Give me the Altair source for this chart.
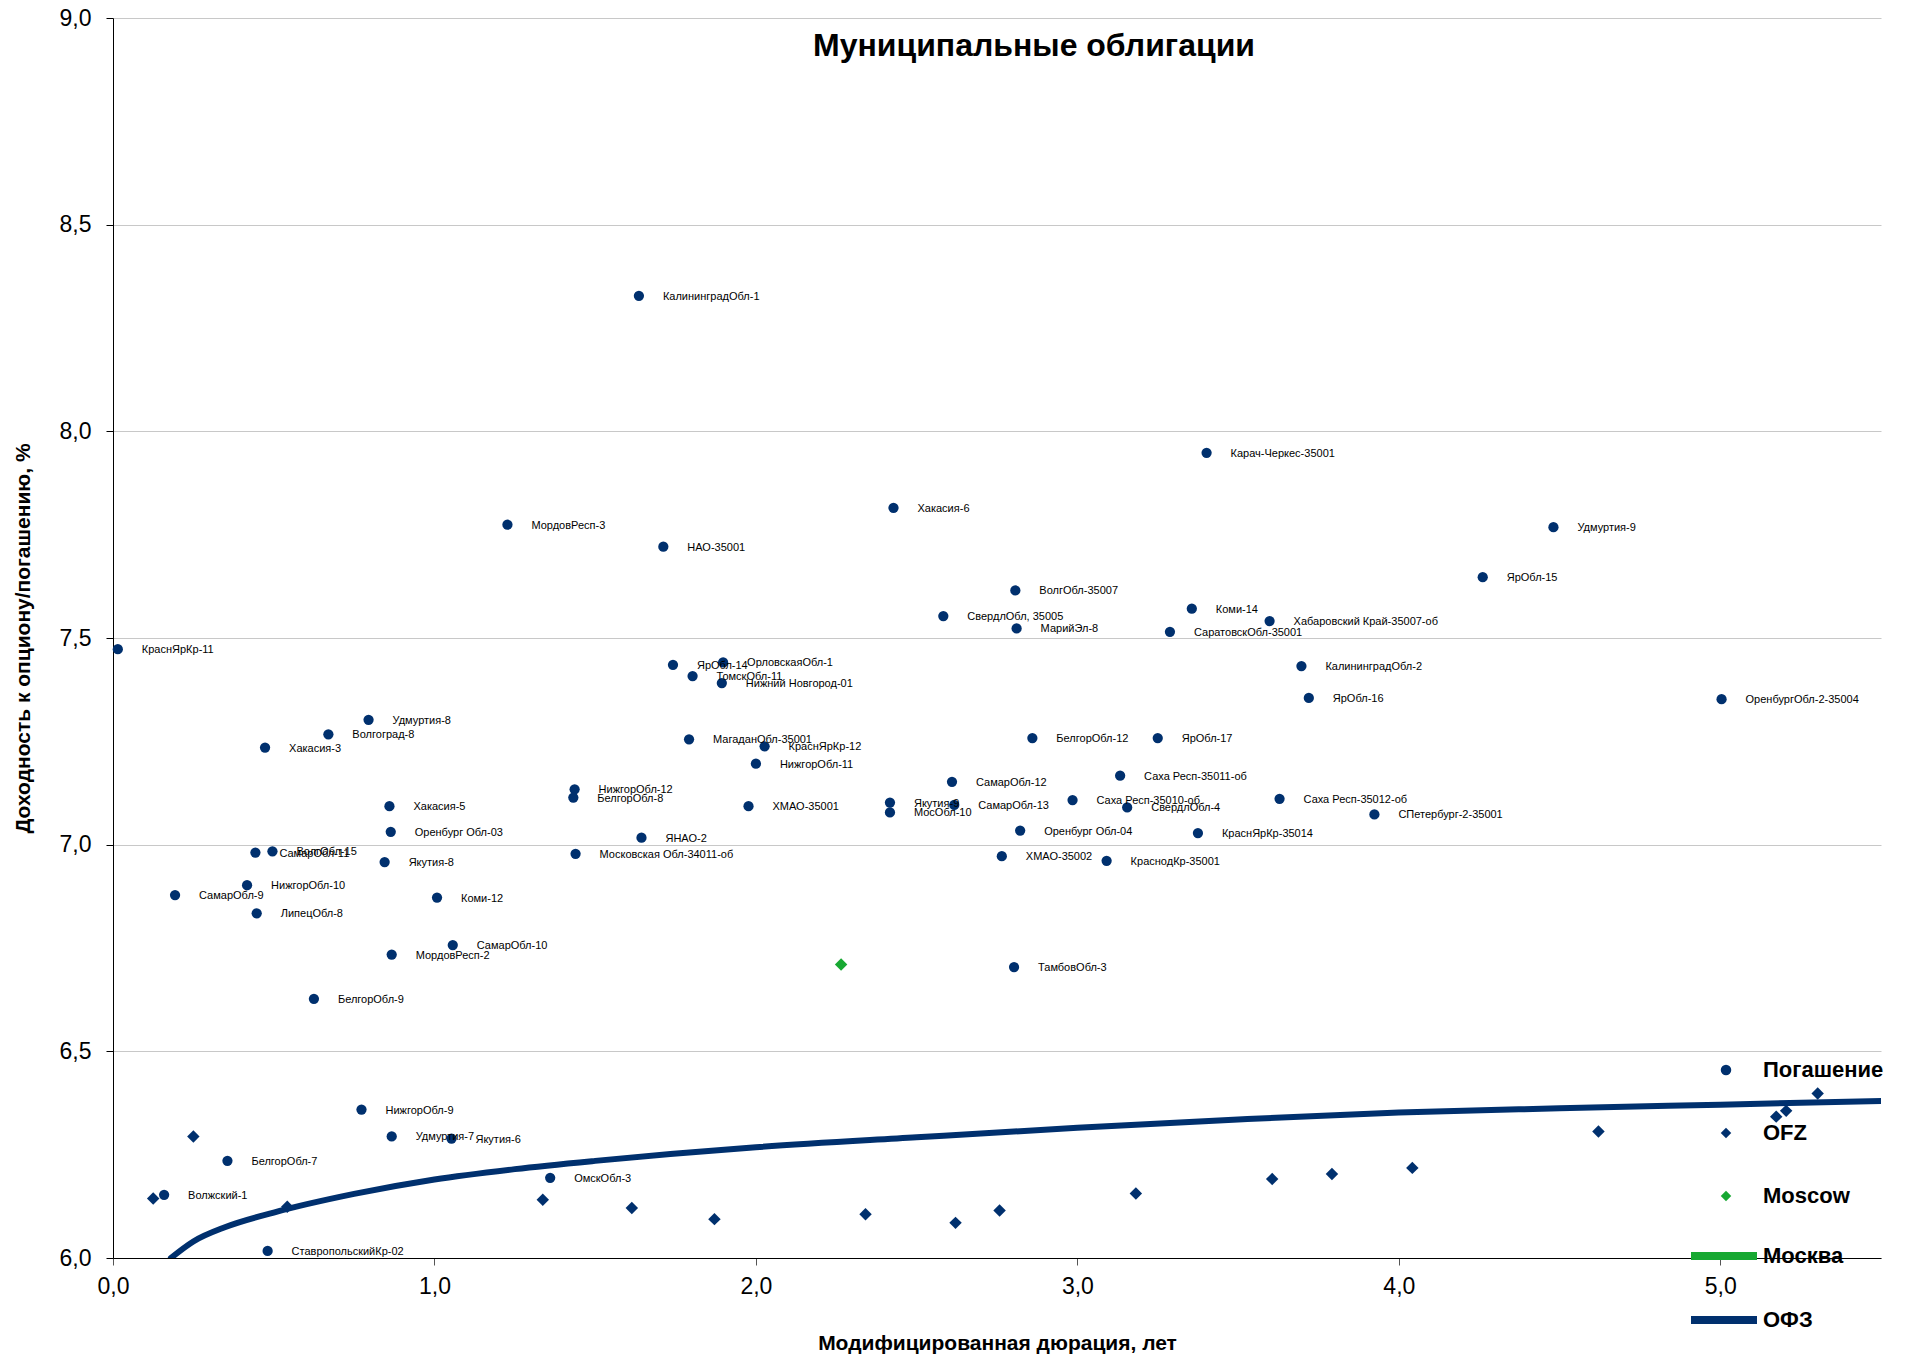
import altair as alt
import pandas as pd

NAVY = "#00306e"
GREEN = "#17a832"
NARROW = "Liberation Sans Narrow, Arial Narrow, Liberation Sans, sans-serif"
SANS = "Liberation Sans, Arial, sans-serif"

# --- Погашение (municipal bonds, yield to maturity) ---
pog_labels = [
    "КалининградОбл-1", "Карач-Черкес-35001", "Хакасия-6", "МордовРесп-3", "НАО-35001",
    "Удмуртия-9", "ЯрОбл-15", "ВолгОбл-35007", "Коми-14", "СвердлОбл, 35005",
    "Хабаровский Край-35007-об", "МарийЭл-8", "СаратовскОбл-35001", "КраснЯрКр-11",
    "КалининградОбл-2", "ЯрОбл-16", "ОренбургОбл-2-35004", "ЯрОбл-14", "ОрловскаяОбл-1",
    "ТомскОбл-11", "Нижний Новгород-01", "Удмуртия-8", "Волгоград-8", "Хакасия-3",
    "МагаданОбл-35001", "КраснЯрКр-12", "НижгорОбл-11", "БелгорОбл-12", "ЯрОбл-17",
    "Саха Респ-35011-об", "СамарОбл-12", "НижгорОбл-12", "БелгорОбл-8", "Хакасия-5",
    "ХМАО-35001", "Якутия-9", "МосОбл-10", "СамарОбл-13", "Саха Респ-35010-об",
    "СвердлОбл-4", "Саха Респ-35012-об", "СПетербург-2-35001", "Оренбург Обл-03",
    "ЯНАО-2", "Оренбург Обл-04", "КраснЯрКр-35014", "Московская Обл-34011-об",
    "СамарОбл-11", "ВолгОбл-15", "ХМАО-35002", "КраснодКр-35001", "НижгорОбл-10",
    "СамарОбл-9", "Якутия-8", "Коми-12", "ЛипецОбл-8", "СамарОбл-10", "МордовРесп-2",
    "ТамбовОбл-3", "БелгорОбл-9", "НижгорОбл-9", "Удмуртия-7", "Якутия-6", "БелгорОбл-7",
    "ОмскОбл-3", "Волжский-1", "СтавропольскийКр-02",
]
pog_x = [
    1.636, 3.402, 2.428, 1.227, 1.712,
    4.481, 4.261, 2.807, 3.356, 2.583,
    3.598, 2.811, 3.288, 0.015,
    3.697, 3.720, 5.004, 1.742, 1.898,
    1.803, 1.894, 0.795, 0.670, 0.473,
    1.792, 2.027, 2.000, 2.860, 3.250,
    3.133, 2.610, 1.436, 1.432, 0.860,
    1.977, 2.417, 2.417, 2.617, 2.985,
    3.155, 3.629, 3.924, 0.864,
    1.644, 2.822, 3.375, 1.439,
    0.443, 0.496, 2.765, 3.091, 0.417,
    0.193, 0.845, 1.008, 0.447, 1.057, 0.867,
    2.803, 0.625, 0.773, 0.867, 1.053, 0.356,
    1.360, 0.159, 0.481,
]
pog_y = [
    8.328, 7.948, 7.815, 7.774, 7.721,
    7.768, 7.647, 7.615, 7.571, 7.553,
    7.541, 7.523, 7.515, 7.473,
    7.432, 7.355, 7.352, 7.435, 7.441,
    7.408, 7.391, 7.302, 7.267, 7.235,
    7.255, 7.238, 7.196, 7.258, 7.258,
    7.167, 7.152, 7.134, 7.114, 7.093,
    7.093, 7.102, 7.078, 7.096, 7.108,
    7.090, 7.111, 7.073, 7.031,
    7.017, 7.034, 7.028, 6.978,
    6.981, 6.984, 6.972, 6.961, 6.902,
    6.878, 6.958, 6.872, 6.834, 6.757, 6.734,
    6.704, 6.627, 6.359, 6.294, 6.289, 6.235,
    6.194, 6.153, 6.017,
]

# --- OFZ (government bonds) ---
ofz_x = [0.125, 0.250, 0.542, 1.337, 1.614, 1.871, 2.341, 2.621, 2.758,
         3.182, 3.606, 3.792, 4.042, 4.621, 5.174, 5.205, 5.303]
ofz_y = [6.144, 6.294, 6.124, 6.141, 6.121, 6.094, 6.106, 6.085, 6.115,
         6.156, 6.191, 6.203, 6.218, 6.306, 6.342, 6.356, 6.398]

# --- Moscow ---
moscow_x = [2.265]
moscow_y = [6.710]

# --- ОФЗ curve ---
curve_x = [0.18, 0.25, 0.35, 0.50, 0.75, 1.00, 1.25, 1.50, 2.00, 2.50,
           3.00, 3.50, 4.00, 4.50, 5.00, 5.50]
curve_y = [6.000, 6.040, 6.075, 6.110, 6.155, 6.190, 6.215, 6.235, 6.268, 6.292,
           6.315, 6.335, 6.352, 6.362, 6.371, 6.380]

x_ticks = [0, 1, 2, 3, 4, 5]
y_ticks = [6.0, 6.5, 7.0, 7.5, 8.0, 8.5, 9.0]

pt_domain = ["Погашение", "OFZ", "Moscow"]
line_domain = ["Москва", "ОФЗ"]

points = pd.DataFrame({
    "x": pog_x + ofz_x + moscow_x,
    "y": pog_y + ofz_y + moscow_y,
    "series": ["Погашение"] * len(pog_x) + ["OFZ"] * len(ofz_x) + ["Moscow"] * len(moscow_x),
    "label": pog_labels + [""] * (len(ofz_x) + len(moscow_x)),
})
curve = pd.DataFrame({"x": curve_x, "y": curve_y, "line": ["ОФЗ"] * len(curve_x)})

comma = "replace(format(datum.value, '.1f'), '.', ',')"

xs = alt.Scale(domain=[0, 5.5], nice=False, zero=False)
ys = alt.Scale(domain=[6, 9], nice=False, zero=False)

x_enc = alt.X("x:Q", scale=xs, axis=alt.Axis(
    values=x_ticks, labelExpr=comma, grid=False, title="Модифицированная дюрация, лет",
    titleFont=SANS, titleFontSize=21, titleFontWeight="bold", titleColor="black",
    titlePadding=34, labelFont=NARROW, labelFontSize=23, labelColor="black",
    labelPadding=10, labelFlush=False, tickSize=7, tickColor="#555555", domainColor="black",
))
y_enc = alt.Y("y:Q", scale=ys, axis=alt.Axis(
    values=y_ticks, labelExpr=comma, grid=True, gridColor="#c8c8c8",
    title="Доходность к опциону/погашению, %",
    titleFont=SANS, titleFontSize=21, titleFontWeight="bold", titleColor="black",
    titlePadding=26, labelFont=NARROW, labelFontSize=23, labelColor="black",
    labelPadding=15, labelFlush=False, tickSize=7, tickColor="black", domainColor="black",
))

pt_legend = alt.Legend(
    title=None, orient="none", legendX=1602, legendY=1041, padding=0,
    labelFont=SANS, labelFontSize=22, labelFontWeight="bold", labelColor="black",
    labelOffset=26, rowPadding=41, symbolSize=110, symbolStrokeWidth=0,
)
color = alt.Color("series:N", scale=alt.Scale(domain=pt_domain, range=[NAVY, NAVY, GREEN]),
                  legend=pt_legend)
shape = alt.Shape("series:N", scale=alt.Scale(domain=pt_domain, range=["circle", "diamond", "diamond"]),
                  legend=pt_legend)

base = alt.Chart(points)

circles = base.transform_filter(alt.datum.series == "Погашение").mark_point(
    filled=True, size=105, opacity=1).encode(x=x_enc, y=y_enc, color=color, shape=shape)

diamonds = base.transform_filter(alt.datum.series != "Погашение").mark_point(
    filled=True, size=155, opacity=1).encode(x=x_enc, y=y_enc, color=color, shape=shape)

labels = base.transform_filter(alt.datum.series == "Погашение").mark_text(
    align="left", baseline="middle", dx=24, dy=1, font=NARROW, fontSize=11, color="black"
).encode(x=x_enc, y=y_enc, text="label:N")

line = alt.Chart(curve).mark_line(strokeWidth=6, clip=True, interpolate="monotone", strokeCap="round").encode(
    x=x_enc, y=y_enc,
    stroke=alt.Stroke("line:N", scale=alt.Scale(domain=line_domain, range=[GREEN, NAVY]),
                      legend=alt.Legend(
                          title=None, orient="none", legendX=1574, legendY=1201, padding=0,
                          labelFont=SANS, labelFontSize=22, labelFontWeight="bold",
                          labelColor="black", labelOffset=2, rowPadding=11,
                          symbolType="stroke", symbolSize=4356, symbolStrokeWidth=8,
                      )),
)

chart = alt.layer(line, circles, diamonds, labels).properties(
    width=1768, height=1240,
    title=alt.TitleParams("Муниципальные облигации", font=SANS, fontSize=32, fontWeight="bold",
                          color="black", anchor="middle", dx=37, dy=43, offset=-45, baseline="bottom"),
    autosize=alt.AutoSizeParams(type="none"),
    padding={"left": 105, "top": 10, "right": 20, "bottom": 96},
).configure_view(stroke=None).configure_legend(symbolOpacity=1)

chart.save("out.html", embed_options={"renderer": "svg", "actions": False})
